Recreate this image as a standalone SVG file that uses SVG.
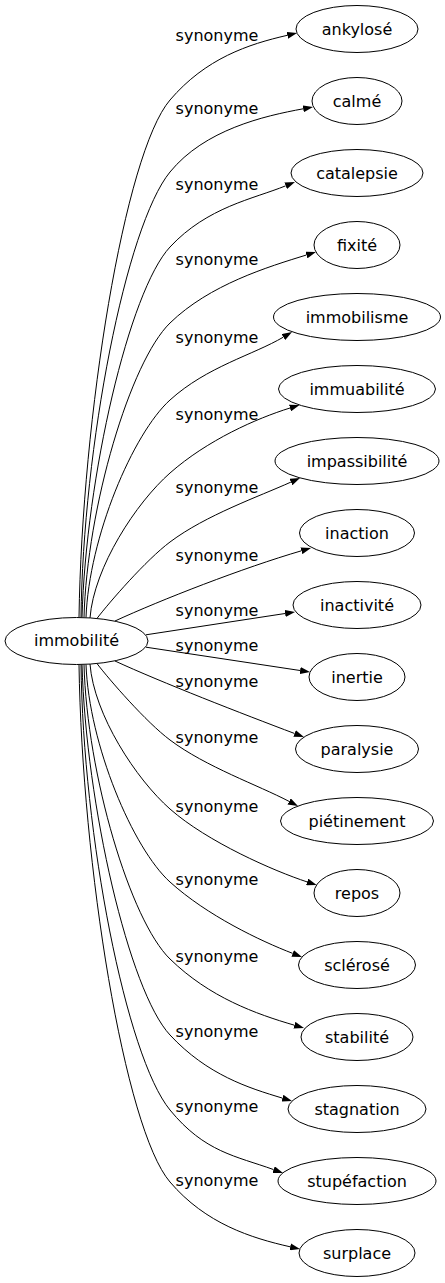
<svg xmlns="http://www.w3.org/2000/svg" width="445" height="1283" viewBox="0 0 445 1283">
<style>
.n ellipse{fill:#fff;stroke:#000;stroke-width:1}
.n text,.lbl text{font-family:"DejaVu Sans",sans-serif;font-size:16px;fill:#000;text-anchor:middle}
.e path{fill:none;stroke:#000;stroke-width:1;marker-end:url(#ah)}
</style>
<defs>
<marker id="ah" markerWidth="10" markerHeight="7" refX="0" refY="3.5" orient="auto" markerUnits="userSpaceOnUse"><path d="M0,0 L10,3.5 L0,7 z" fill="#000"/></marker>
</defs>
<rect width="445" height="1283" fill="#fff"/>
<g id="edges" class="e">
<path d="M79,617.5 C82,417 124.5,153.2 170,100 C205.75,58.2 248.3,44.3 287.3,35.3"/>
<path d="M81,617.5 C83,447 125.9,225.9 170,172 C204.65,129.65 263.8,116 303.2,108.8"/>
<path d="M82,617.5 C86,477 129.2,290.8 170,247 C207.4,206.85 253.3,199 285.7,185.8"/>
<path d="M84,617.5 C87,507 130.4,361.5 170,323 C209.6,284.5 268.2,266.8 306.4,255"/>
<path d="M86,617.6 C89,537 133,433.5 170,400 C207,366.5 253.3,354.9 283.4,337.1"/>
<path d="M90,618 C94,567 136.25,502.7 170,473 C207.5,440 256.6,418.4 290,408"/>
<path d="M97,618.4 C109.6,602 146,560 170,542 C206,515 259,496.5 290.9,482.1"/>
<path d="M115,621 C160.5,600 243.8,567.6 301.4,550.8"/>
<path d="M146,634.8 L285.1,613.5"/>
<path d="M146,647.2 L300.1,670.5"/>
<path d="M115,661 C160.5,682 243.1,714.1 294.6,733.5"/>
<path d="M97,663.6 C109.6,680 146,722 170,740 C206,767 258.1,785.1 289.1,801.4"/>
<path d="M90,664 C94,715 136.25,779.3 170,809 C207.5,842 273.9,871 307.1,881.9"/>
<path d="M86,664.4 C89,745 133,848.5 170,882 C207,915.5 260.1,940.8 292.7,953.4"/>
<path d="M84,664.5 C87,775 130.4,920.5 170,959 C209.6,997.5 256,1014 294.4,1025.2"/>
<path d="M82,664.5 C86,805 129.2,991.2 170,1035 C207.4,1075.15 248.8,1088 282.4,1098.1"/>
<path d="M81,664.5 C83,835 125.9,1056.1 170,1110 C204.65,1152.35 236,1156 273.6,1169.6"/>
<path d="M79,664.5 C82,865 124.5,1128.8 170,1182 C205.75,1223.8 251.2,1238 290.2,1246.8"/>
</g>
<g id="labels" class="lbl">
<text x="217" y="41">synonyme</text>
<text x="217" y="114">synonyme</text>
<text x="217" y="190">synonyme</text>
<text x="217" y="265">synonyme</text>
<text x="217" y="343">synonyme</text>
<text x="217" y="420">synonyme</text>
<text x="217" y="493">synonyme</text>
<text x="217" y="561">synonyme</text>
<text x="217" y="616">synonyme</text>
<text x="217" y="651">synonyme</text>
<text x="217" y="687">synonyme</text>
<text x="217" y="743">synonyme</text>
<text x="217" y="812">synonyme</text>
<text x="217" y="885">synonyme</text>
<text x="217" y="962">synonyme</text>
<text x="217" y="1037">synonyme</text>
<text x="217" y="1112">synonyme</text>
<text x="217" y="1186">synonyme</text>
</g>
<g id="n0" class="n"><ellipse cx="76.5" cy="641" rx="71.5" ry="23.5"/><text x="76.5" y="646">immobilité</text></g>
<g id="n1" class="n"><ellipse cx="357" cy="29" rx="61" ry="23.5"/><text x="357" y="34.5">ankylosé</text></g>
<g id="n2" class="n"><ellipse cx="357" cy="101" rx="45" ry="23.5"/><text x="357" y="106.5">calmé</text></g>
<g id="n3" class="n"><ellipse cx="357" cy="173" rx="66" ry="23.5"/><text x="357" y="178.5">catalepsie</text></g>
<g id="n4" class="n"><ellipse cx="357" cy="245" rx="43" ry="23.5"/><text x="357" y="250.5">fixité</text></g>
<g id="n5" class="n"><ellipse cx="357" cy="317" rx="83.5" ry="23.5"/><text x="357" y="322.5">immobilisme</text></g>
<g id="n6" class="n"><ellipse cx="357" cy="389" rx="78.5" ry="23.5"/><text x="357" y="394.5">immuabilité</text></g>
<g id="n7" class="n"><ellipse cx="357" cy="461" rx="82" ry="23.5"/><text x="357" y="466.5">impassibilité</text></g>
<g id="n8" class="n"><ellipse cx="357" cy="533" rx="57.5" ry="23.5"/><text x="357" y="538.5">inaction</text></g>
<g id="n9" class="n"><ellipse cx="357" cy="605" rx="64" ry="23.5"/><text x="357" y="610.5">inactivité</text></g>
<g id="n10" class="n"><ellipse cx="357" cy="677" rx="48" ry="23.5"/><text x="357" y="682.5">inertie</text></g>
<g id="n11" class="n"><ellipse cx="357" cy="749" rx="61.5" ry="23.5"/><text x="357" y="754.5">paralysie</text></g>
<g id="n12" class="n"><ellipse cx="357" cy="821" rx="76.5" ry="23.5"/><text x="357" y="826.5">piétinement</text></g>
<g id="n13" class="n"><ellipse cx="357" cy="893" rx="43" ry="23.5"/><text x="357" y="898.5">repos</text></g>
<g id="n14" class="n"><ellipse cx="357" cy="965" rx="58.5" ry="23.5"/><text x="357" y="970.5">sclérosé</text></g>
<g id="n15" class="n"><ellipse cx="357" cy="1037" rx="56" ry="23.5"/><text x="357" y="1042.5">stabilité</text></g>
<g id="n16" class="n"><ellipse cx="357" cy="1109" rx="69" ry="23.5"/><text x="357" y="1114.5">stagnation</text></g>
<g id="n17" class="n"><ellipse cx="357" cy="1181" rx="79" ry="23.5"/><text x="357" y="1186.5">stupéfaction</text></g>
<g id="n18" class="n"><ellipse cx="357" cy="1253" rx="58" ry="23.5"/><text x="357" y="1258.5">surplace</text></g>
</svg>
